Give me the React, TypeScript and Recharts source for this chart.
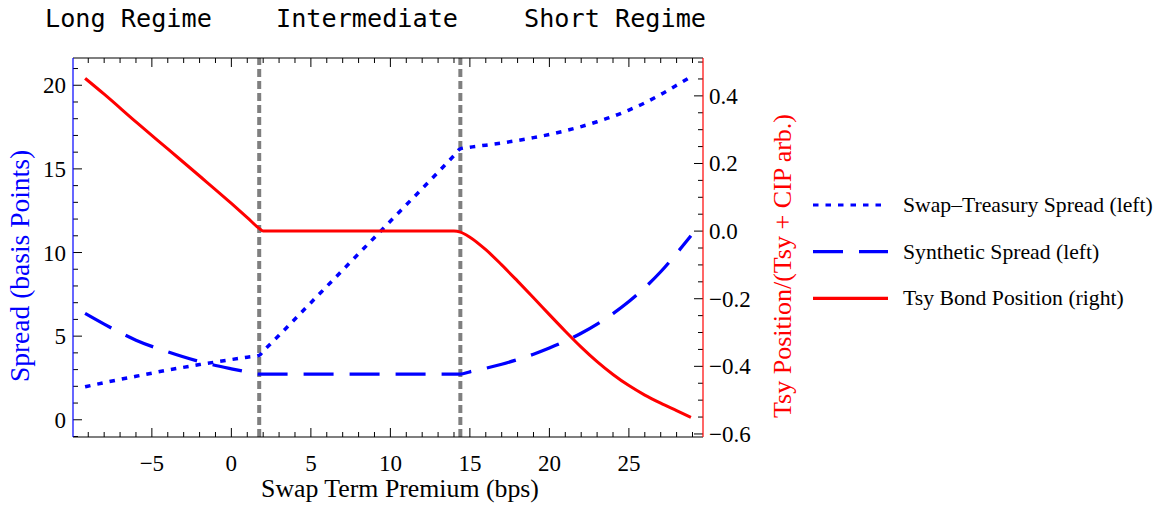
import React from 'react';
import { LineChart, Line, XAxis, YAxis, ReferenceLine, Legend } from 'recharts';

// swap term premium (bps) sample points
const premium = [-9.2, -8, -6, -4, -2, 0, 1, 1.75, 2, 3, 5, 7, 9, 11, 13, 14, 14.4, 15, 16, 17, 18, 19, 20, 21, 22, 23, 24, 25, 26, 27, 28, 28.9];

// left axis (bps)
const swapTsySpread = [1.97, 2.22, 2.6, 2.97, 3.3, 3.6, 3.74, 3.85, 4.1, 5.05, 7.0, 8.95, 10.9, 12.85, 14.8, 15.8, 16.2, 16.3, 16.42, 16.55, 16.7, 16.87, 17.06, 17.28, 17.53, 17.82, 18.14, 18.52, 18.95, 19.45, 20.0, 20.5];
const syntheticSpread = [6.36, 5.72, 4.76, 4.06, 3.48, 3.05, 2.86, 2.73, 2.73, 2.73, 2.73, 2.73, 2.73, 2.73, 2.73, 2.73, 2.73, 2.87, 3.08, 3.32, 3.6, 3.92, 4.29, 4.7, 5.17, 5.72, 6.35, 7.07, 7.9, 8.85, 9.95, 11.0];

// right axis
const tsyPosition = [0.452, 0.405, 0.323, 0.243, 0.163, 0.082, 0.04, 0.008, 0, 0, 0, 0, 0, 0, 0, 0, -0.003, -0.018, -0.055, -0.1, -0.148, -0.197, -0.247, -0.296, -0.343, -0.386, -0.424, -0.457, -0.485, -0.509, -0.531, -0.551];

const regimeBounds = [1.75, 14.4];
const regimeNames = ['Long Regime', 'Intermediate', 'Short Regime'];

const xLabels = [-5, 0, 5, 10, 15, 20, 25];
const leftLabels = [0, 5, 10, 15, 20];
const rightLabels = [-0.6, -0.4, -0.2, 0, 0.2, 0.4];

const range = (from: number, to: number, step: number) => {
    const out: number[] = [];
    const n = Math.round((to - from) / step);
    for (let i = 0; i <= n; i++) out.push(Math.round((from + i * step) * 1000) / 1000);
    return out;
};

const xTicks = range(-9, 29, 1);
const leftTicks = range(-1, 21, 1);
const rightTicks = range(-0.6, 0.5, 0.05);

const xDomain = [-9.96, 29.66];
const leftDomain = [-1.03, 21.63];
const rightDomain = [-0.609, 0.512];

const data = premium.map((x, i) => ({
    x,
    swap: swapTsySpread[i],
    synth: syntheticSpread[i],
    tsy: tsyPosition[i],
}));

// plot box, used to turn inward tick lengths (px) into axis units
const PLOT_W = 630;
const PLOT_H = 379;
const xUnit = (px: number) => (px * (xDomain[1] - xDomain[0])) / PLOT_W;
const lUnit = (px: number) => (px * (leftDomain[1] - leftDomain[0])) / PLOT_H;

const isMajor = (v: number, labels: number[]) => labels.some(l => Math.abs(l - v) < 1e-6);
const tickLen = (v: number, labels: number[]) => (isMajor(v, labels) ? 9 : 5);

const SERIF = '"Liberation Serif", "Times New Roman", serif';
const MONO = '"DejaVu Sans Mono", monospace';

const fmt = (v: number, digits = 0) => {
    const s = Math.abs(v).toFixed(digits);
    return v < -1e-9 ? '\u2212' + s : s;
};

function BottomLabel(props: any) {
    const { x, y, payload } = props;
    return (
        <text x={x} y={y + 34} textAnchor="middle" fontSize={23} fontFamily={SERIF} fill="#000">
            {fmt(payload.value)}
        </text>
    );
}

function LeftLabel(props: any) {
    const { x, y, payload } = props;
    return (
        <text x={x - 7} y={y + 8} textAnchor="end" fontSize={23} fontFamily={SERIF} fill="#000">
            {fmt(payload.value)}
        </text>
    );
}

function RightLabel(props: any) {
    const { x, y, payload } = props;
    return (
        <text x={x + 6} y={y + 8} textAnchor="start" fontSize={23} fontFamily={SERIF} fill="#000">
            {fmt(payload.value, 1)}
        </text>
    );
}

const legendRows = [
    { name: 'Swap\u2013Treasury Spread (left)', color: '#0000ff', dash: '5.5 7' },
    { name: 'Synthetic Spread (left)', color: '#0000ff', dash: '30 16' },
    { name: 'Tsy Bond Position (right)', color: '#ff0000', dash: undefined },
];

function LegendBox() {
    return (
        <svg width={352} height={130}>
            {legendRows.map((r, i) => {
                const y = 20 + i * 46.7;
                return (
                    <g key={r.name}>
                        <line x1={8} x2={83} y1={y} y2={y} stroke={r.color} strokeWidth={3.2} strokeDasharray={r.dash} />
                        <text x={98} y={y + 7} fontSize={21.7} fontFamily={SERIF} fill="#000">{r.name}</text>
                    </g>
                );
            })}
        </svg>
    );
}

const tickStyle = { stroke: '#000', strokeWidth: 1, ifOverflow: 'visible' as const };

export default function App() {
    return (
        <div style={{ position: 'absolute', left: 0, top: 0, width: 1157, height: 505, background: '#fff' }}>
            <LineChart width={1157} height={505} data={data} margin={{ top: 57, right: 374, bottom: 8, left: 13 }}>
                <XAxis
                    xAxisId="bottom"
                    type="number"
                    dataKey="x"
                    domain={xDomain}
                    allowDataOverflow
                    ticks={xLabels}
                    interval={0}
                    tickSize={0}
                    tickMargin={0}
                    tickLine={false}
                    tick={<BottomLabel />}
                    height={60}
                    axisLine={{ stroke: '#000', strokeWidth: 1.2 }}
                />
                <XAxis
                    xAxisId="top"
                    orientation="top"
                    type="number"
                    dataKey="x"
                    domain={xDomain}
                    allowDataOverflow
                    tick={false}
                    tickLine={false}
                    height={1}
                    axisLine={{ stroke: '#000', strokeWidth: 1.2 }}
                />
                <YAxis
                    yAxisId="left"
                    type="number"
                    domain={leftDomain}
                    allowDataOverflow
                    ticks={leftLabels}
                    interval={0}
                    tickSize={0}
                    tickMargin={0}
                    tickLine={false}
                    tick={<LeftLabel />}
                    width={60}
                    axisLine={{ stroke: '#0000ff', strokeWidth: 1.2 }}
                />
                <YAxis
                    yAxisId="right"
                    orientation="right"
                    type="number"
                    domain={rightDomain}
                    allowDataOverflow
                    ticks={rightLabels}
                    interval={0}
                    tickSize={0}
                    tickMargin={0}
                    tickLine={false}
                    tick={<RightLabel />}
                    width={80}
                    axisLine={{ stroke: '#ff0000', strokeWidth: 1.2 }}
                />

                {/* inward frame ticks */}
                {xTicks.map(v => (
                    <ReferenceLine key={'b' + v} xAxisId="bottom" yAxisId="left" {...tickStyle}
                        segment={[{ x: v, y: leftDomain[0] }, { x: v, y: leftDomain[0] + lUnit(tickLen(v, xLabels)) }]} />
                ))}
                {xTicks.map(v => (
                    <ReferenceLine key={'t' + v} xAxisId="bottom" yAxisId="left" {...tickStyle}
                        segment={[{ x: v, y: leftDomain[1] }, { x: v, y: leftDomain[1] - lUnit(tickLen(v, xLabels)) }]} />
                ))}
                {leftTicks.map(v => (
                    <ReferenceLine key={'l' + v} xAxisId="bottom" yAxisId="left" {...tickStyle}
                        segment={[{ x: xDomain[0], y: v }, { x: xDomain[0] + xUnit(tickLen(v, leftLabels)), y: v }]} />
                ))}
                {rightTicks.map(v => (
                    <ReferenceLine key={'r' + v} xAxisId="bottom" yAxisId="right" {...tickStyle}
                        segment={[{ x: xDomain[1], y: v }, { x: xDomain[1] - xUnit(tickLen(v, rightLabels)), y: v }]} />
                ))}

                {regimeBounds.map(b => (
                    <ReferenceLine key={b} x={b} xAxisId="bottom" yAxisId="left" stroke="#7f7f7f" strokeWidth={4} strokeDasharray="8 4" />
                ))}
                <Line xAxisId="bottom" yAxisId="left" type="monotone" dataKey="swap" stroke="#0000ff" strokeWidth={3.5} strokeDasharray="5.5 7" dot={false} isAnimationActive={false} />
                <Line xAxisId="bottom" yAxisId="left" type="monotone" dataKey="synth" stroke="#0000ff" strokeWidth={3.3} strokeDasharray="30 16" dot={false} isAnimationActive={false} />
                <Line xAxisId="bottom" yAxisId="right" type="monotone" dataKey="tsy" stroke="#ff0000" strokeWidth={3} dot={false} isAnimationActive={false} />
                <Legend
                    layout="vertical"
                    align="center"
                    verticalAlign="middle"
                    content={() => <LegendBox />}
                    wrapperStyle={{ left: 805, top: 185, width: 352 }}
                />
            </LineChart>
            <svg width={1157} height={505} style={{ position: 'absolute', left: 0, top: 0, pointerEvents: 'none' }}>
                {regimeNames.map((n, i) => (
                    <text key={n} x={[45, 276, 524][i]} y={27} fontSize={25.2} fontFamily={MONO} fill="#000">{n}</text>
                ))}
                <text x={400} y={497} textAnchor="middle" fontSize={25.8} fontFamily={SERIF} fill="#000">Swap Term Premium (bps)</text>
                <text x={29} y={266} transform="rotate(-90 29 266)" textAnchor="middle" fontSize={27.5} fontFamily={SERIF} fill="#0000ff">Spread (basis Points)</text>
                <text x={791} y={266} transform="rotate(-90 791 266)" textAnchor="middle" fontSize={26} fontFamily={SERIF} fill="#ff0000">Tsy Position/(Tsy + CIP arb.)</text>
            </svg>
        </div>
    );
}
